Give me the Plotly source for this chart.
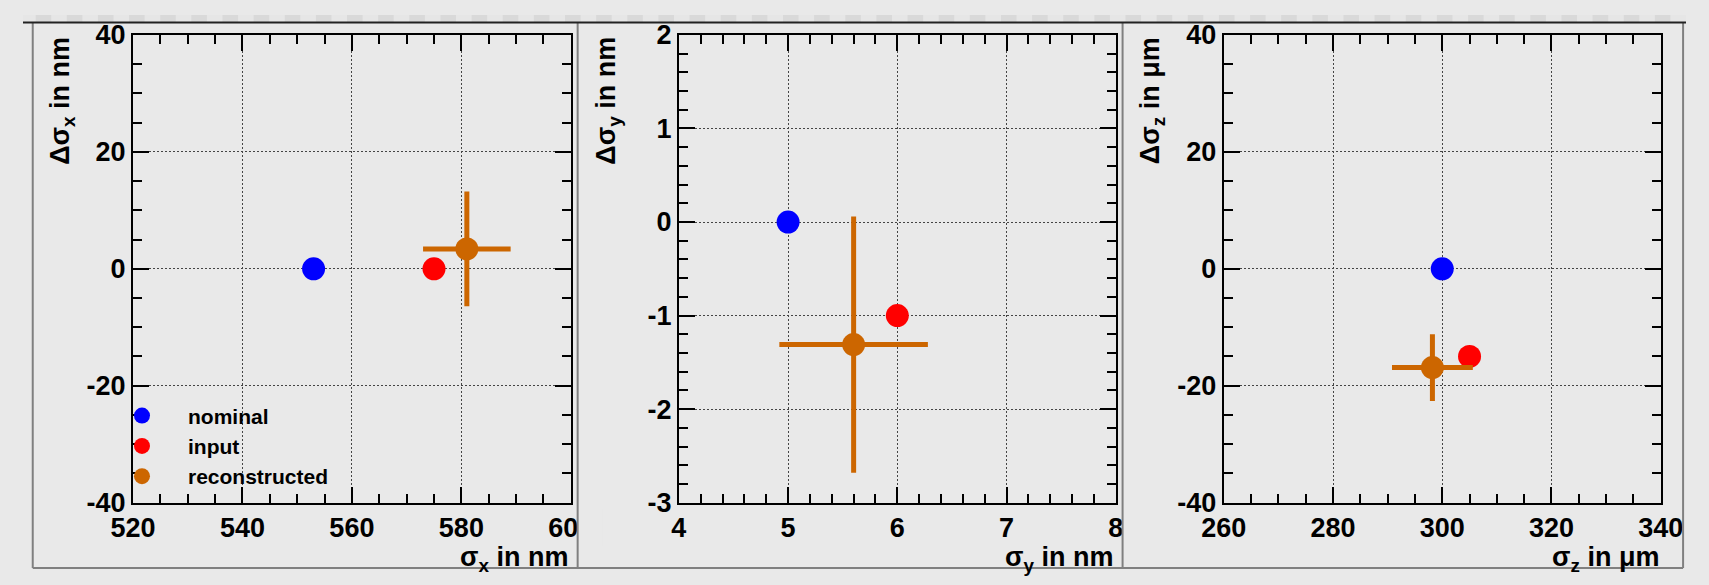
import plotly.graph_objects as go

# ---------------- data ----------------
series_names = ["nominal", "input", "reconstructed"]
series_colors = ["#0000ff", "#ff0000", "#cc6600"]

# panel 1: sigma_x (nm)
sx_x = [553, 575, 581]
sx_y = [0, 0, 3.4]
sx_xerr = [0, 0, 8]
sx_yerr = [0, 0, 9.8]

# panel 2: sigma_y (nm)
sy_x = [5.0, 6.0, 5.6]
sy_y = [0.0, -1.0, -1.31]
sy_xerr = [0, 0, 0.68]
sy_yerr = [0, 0, 1.37]

# panel 3: sigma_z (um)
sz_x = [300, 305, 298.2]
sz_y = [0, -15, -16.9]
sz_xerr = [0, 0, 7.4]
sz_yerr = [0, 0, 5.7]

x_titles = ["σ<sub>x</sub> in nm", "σ<sub>y</sub> in nm", "σ<sub>z</sub> in μm"]
y_titles = ["Δσ<sub>x</sub> in nm", "Δσ<sub>y</sub> in nm", "Δσ<sub>z</sub> in μm"]
x_ranges = [[520, 600], [4, 8], [260, 340]]
y_ranges = [[-40, 40], [-3, 2], [-40, 40]]
x_major = [20, 1, 20]
x_minor = [5, 0.2, 5]
y_minor = [5, 0.2, 5]

# y tick labels (ROOT style, plain hyphen minus)
y_tickvals = [[-40, -20, 0, 20, 40], [-3, -2, -1, 0, 1, 2], [-40, -20, 0, 20, 40]]
y_ticktext = [["-40", "-20", "0", "20", "40"],
              ["-3", "-2", "-1", "0", "1", "2"],
              ["-40", "-20", "0", "20", "40"]]

panels = [
    (sx_x, sx_y, sx_xerr, sx_yerr),
    (sy_x, sy_y, sy_xerr, sy_yerr),
    (sz_x, sz_y, sz_xerr, sz_yerr),
]

# ---------------- layout geometry ----------------
W, H = 1709, 585
BG = "#e9e9e9"
FONT = "Liberation Sans, Arial, Helvetica, sans-serif"
plot_left = [113, 674, 1234]
plot_right = [563, 1123, 1683]
plot_top, plot_bottom = 21, 514

fig = go.Figure()

for i, (xs, ys, xe, ye) in enumerate(panels):
    xa = "x" if i == 0 else f"x{i+1}"
    ya = "y" if i == 0 else f"y{i+1}"
    for j in range(3):
        has_err = xe[j] != 0 or ye[j] != 0
        fig.add_trace(go.Scatter(
            x=[xs[j]], y=[ys[j]],
            mode="markers",
            name=series_names[j],
            legendgroup=series_names[j],
            showlegend=(i == 0),
            marker=dict(size=23, color=series_colors[j], line=dict(width=0)),
            error_x=dict(type="data", array=[xe[j]], visible=has_err,
                         color=series_colors[j], thickness=5, width=0),
            error_y=dict(type="data", array=[ye[j]], visible=has_err,
                         color=series_colors[j], thickness=5, width=0),
            xaxis=xa, yaxis=ya,
        ))

tickfont = dict(family=FONT, size=27, color="black", weight="bold")
axis_common = dict(
    showline=True, linecolor="black", linewidth=2, mirror="allticks",
    ticks="inside", ticklen=16, tickwidth=1.5, tickcolor="black",
    showgrid=True, gridcolor="#444444", gridwidth=1, griddash="2px,2px",
    zeroline=False, tickfont=tickfont, fixedrange=True,
)

layout = dict(
    width=W, height=H, autosize=False,
    margin=dict(l=0, r=0, t=0, b=0),
    paper_bgcolor=BG, plot_bgcolor=BG,
    showlegend=True,
    legend=dict(
        x=75 / W, y=(H - 401) / H, xanchor="left", yanchor="top",
        bgcolor="rgba(0,0,0,0)", borderwidth=0,
        font=dict(family=FONT, size=21, color="black", weight="bold"),
        itemwidth=82, tracegroupgap=0,
    ),
)

ydom = [(H - plot_bottom) / H, (H - plot_top) / H]
for i in range(3):
    xk = "xaxis" if i == 0 else f"xaxis{i+1}"
    yk = "yaxis" if i == 0 else f"yaxis{i+1}"
    ya = "y" if i == 0 else f"y{i+1}"
    xa = "x" if i == 0 else f"x{i+1}"
    layout[xk] = dict(
        axis_common,
        domain=[plot_left[i] / W, plot_right[i] / W],
        range=x_ranges[i], dtick=x_major[i], tick0=x_ranges[i][0],
        anchor=ya,
        minor=dict(dtick=x_minor[i], ticks="inside", ticklen=9,
                   tickwidth=1.5, tickcolor="black", showgrid=False),
    )
    layout[yk] = dict(
        axis_common,
        domain=ydom,
        range=y_ranges[i], tickmode="array",
        tickvals=y_tickvals[i], ticktext=y_ticktext[i],
        anchor=xa,
        minor=dict(dtick=y_minor[i], tick0=0, ticks="inside", ticklen=9,
                   tickwidth=1.5, tickcolor="black", showgrid=False),
    )

fig.update_layout(**layout)

# axis titles (ROOT style: right / top aligned)
title_font = dict(family=FONT, size=27, color="black", weight="bold")
for i in range(3):
    fig.add_annotation(
        text=x_titles[i], xref="paper", yref="paper",
        x=plot_right[i] / W, y=(H - 573) / H,
        xanchor="right", yanchor="middle",
        showarrow=False, font=title_font,
    )
    fig.add_annotation(
        text=y_titles[i], xref="paper", yref="paper",
        x=(plot_left[i] - 73) / W, y=(H - plot_top) / H,
        xanchor="center", yanchor="top", textangle=-90,
        showarrow=False, font=title_font,
    )

# pad decorations
shapes = []
# checkered top strip
shapes.append(dict(type="rect", xref="paper", yref="paper",
                   x0=0, x1=1, y0=(H - 8) / H, y1=1,
                   fillcolor="#e6e6e6", line=dict(width=0), layer="above"))
for k in range(0, W, 32):
    shapes.append(dict(type="rect", xref="paper", yref="paper",
                       x0=(k + 13) / W, x1=min(k + 29, W) / W,
                       y0=(H - 8) / H, y1=1,
                       fillcolor="#d9d9d9", line=dict(width=0), layer="above"))
# mask clipping the last x label of panel 1 (pad edge)
shapes.append(dict(type="rect", xref="paper", yref="paper",
                   x0=571 / W, x1=596 / W, y0=(H - 560) / H, y1=(H - 520) / H,
                   fillcolor=BG, line=dict(width=0), layer="above"))
for xp in [10, 570, 1130, 1706]:
    shapes.append(dict(type="line", xref="paper", yref="paper",
                       x0=xp / W, x1=xp / W, y0=(H - 583) / H, y1=(H - 8) / H,
                       line=dict(color="#808080", width=2), layer="above"))
shapes.append(dict(type="line", xref="paper", yref="paper",
                   x0=0, x1=1, y0=(H - 8) / H, y1=(H - 8) / H,
                   line=dict(color="#222222", width=2), layer="above"))
shapes.append(dict(type="line", xref="paper", yref="paper",
                   x0=10 / W, x1=1706 / W, y0=(H - 583) / H, y1=(H - 583) / H,
                   line=dict(color="#808080", width=2), layer="above"))
fig.update_layout(shapes=shapes)

fig.write_html(
    "out.html",
    config={"displayModeBar": False, "responsive": False},
    post_script="document.body.style.margin='0';document.body.style.padding='0';"
                "document.body.style.overflow='hidden';"
                "document.documentElement.style.overflow='hidden';",
)
